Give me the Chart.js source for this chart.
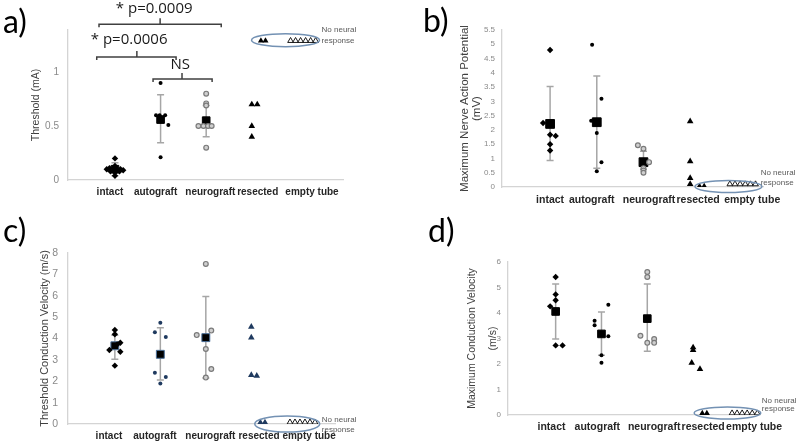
<!DOCTYPE html>
<html>
<head>
<meta charset="utf-8">
<script src="https://cdn.jsdelivr.net/npm/chart.js@4.4.0/dist/chart.umd.min.js"></script>
<style>
  body { margin: 0; width: 800px; height: 448px; background: #fff; position: relative; overflow: hidden; }
  canvas { position: absolute; }
  .lbl { position: absolute; font-family: Lato, 'Open Sans', sans-serif; font-size: 32px; line-height: 32px; color: #000; }
</style>
</head>
<body>
<canvas id="ca" width="400" height="224" style="left:0;top:0"></canvas>
<canvas id="cb" width="400" height="224" style="left:400px;top:0"></canvas>
<canvas id="cc" width="400" height="224" style="left:0;top:224px"></canvas>
<canvas id="cd" width="400" height="224" style="left:400px;top:224px"></canvas>
<div class="lbl" style="left:3px;top:5px">a)</div>
<div class="lbl" style="left:423px;top:4px">b)</div>
<div class="lbl" style="left:3px;top:214px">c)</div>
<div class="lbl" style="left:428px;top:214px">d)</div>
<script>
const groups = ['intact', 'autograft', 'neurograft', 'resected', 'empty tube'];

// a) threshold (mA)
const aIntact = [0.20, 0.13, 0.11, 0.10, 0.10, 0.09, 0.08, 0.08, 0.07, 0.04];
const aIntactJit = [0, 0, -0.12, 0.12, -0.18, 0.18, -0.1, 0.1, 0, 0];
const aAuto = [0.90, 0.60, 0.60, 0.60, 0.51, 0.21];
const aAutoJit = [0, -0.1, -0.02, 0.1, 0.17, 0];
const aNeuro = [0.80, 0.71, 0.69, 0.50, 0.50, 0.50, 0.50, 0.30];
const aNeuroJit = [0, 0, 0, -0.17, -0.06, 0.04, 0.12, 0];
const aResect = [0.70, 0.70, 0.50, 0.40];
const aResectJit = [0, 0.12, 0, 0];
const aResectNone = [1.29, 1.29];
const aEmpty = [1.29, 1.29, 1.29, 1.29, 1.29, 1.29];
const aMean = [0.10, 0.56, 0.55];
const aLow = [0.04, 0.345, 0.40];
const aHigh = [0.16, 0.79, 0.69];

// b) max nerve action potential (mV)
const bIntact = [4.80, 2.24, 1.83, 1.79, 1.50, 1.28];
const bIntactJit = [0, -0.15, 0, 0.12, 0, 0];
const bAuto = [4.98, 3.09, 2.32, 1.89, 0.87, 0.55];
const bAutoJit = [-0.1, 0.1, -0.12, 0, 0.1, 0];
const bNeuro = [1.46, 1.34, 0.87, 0.66, 0.58, 0.50];
const bNeuroJit = [-0.12, 0, 0.12, 0, 0, 0];
const bResect = [2.30, 0.90, 0.31, 0.10];
const bResectJit = [0, 0, 0, 0];
const bResectNone = [0.03, 0.03];
const bEmpty = [0.1, 0.1, 0.1, 0.1, 0.1, 0.1];
const bMean = [2.21, 2.27, 0.87];
const bLow = [0.93, 0.66, 0.62];
const bHigh = [3.52, 3.89, 1.25];

// c) threshold conduction velocity (m/s)
const cIntact = [4.40, 4.20, 3.80, 3.72, 3.46, 3.38, 2.73];
const cIntactJit = [0, 0, 0.12, 0.05, -0.12, 0.12, 0];
const cAuto = [4.74, 4.29, 4.07, 2.40, 2.20, 1.89];
const cAutoJit = [0, -0.12, 0.12, -0.12, 0.12, 0];
const cNeuro = [7.49, 4.37, 4.16, 3.51, 2.57, 2.17];
const cNeuroJit = [0, 0.12, -0.2, 0, 0.12, 0];
const cResect = [4.55, 4.04, 2.29, 2.25];
const cResectJit = [0, 0, 0, 0.12];
const cResectNone = [0.08, 0.08];
const cEmpty = [0.08, 0.08, 0.08, 0.08, 0.08, 0.08];
const cMean = [3.66, 3.26, 4.04];
const cLow = [3.03, 2.06, 2.15];
const cHigh = [4.15, 4.50, 5.97];

// d) max conduction velocity (m/s)
const dIntact = [5.41, 4.73, 4.50, 4.26, 2.73, 2.73];
const dIntactJit = [0, 0, 0, -0.12, 0, 0.15];
const dAuto = [4.32, 3.70, 3.52, 3.09, 2.34, 2.05];
const dAutoJit = [0.15, -0.15, -0.15, 0.15, 0, 0];
const dNeuro = [5.61, 5.41, 3.11, 2.98, 2.83, 2.83];
const dNeuroJit = [0, 0, -0.15, 0.15, 0, 0.15];
const dResect = [2.65, 2.55, 2.05, 1.80];
const dResectJit = [0, 0, -0.03, 0.15];
const dResectNone = [0.07, 0.07];
const dEmpty = [0.07, 0.07, 0.07, 0.07, 0.07, 0.07];
const dMean = [4.06, 3.18, 3.78];
const dLow = [2.98, 2.34, 2.50];
const dHigh = [5.14, 4.04, 5.14];

const noneJit = [0.2, 0.3];
const emptyJit = [-0.15, -0.04, 0.07, 0.18, 0.29, 0.4];

const FONT = "'Liberation Sans', Arial, sans-serif";

function pts(vals, jit, cat) {
  return vals.map((v, i) => ({ x: cat + jit[i], y: v }));
}
// one mean per group, at the group's own category
function means(vals) {
  return vals.map((v, i) => ({ x: i + 1, y: v }));
}

// error bars, ellipse, notes, brackets
const marks = {
  id: 'marks',
  beforeDatasetsDraw(chart, args, o) {
    const { ctx, scales: { x, y } } = chart;
    ctx.save();
    ctx.strokeStyle = '#a6a6a6';
    ctx.lineWidth = 1.5;
    o.mean.forEach((m, i) => {
      const px = x.getPixelForValue(i + 1);
      const y0 = y.getPixelForValue(o.low[i]);
      const y1 = y.getPixelForValue(o.high[i]);
      ctx.beginPath();
      ctx.moveTo(px, y0); ctx.lineTo(px, y1);
      ctx.moveTo(px - 3.5, y0); ctx.lineTo(px + 3.5, y0);
      ctx.moveTo(px - 3.5, y1); ctx.lineTo(px + 3.5, y1);
      ctx.stroke();
    });
    ctx.restore();
  },
  afterDatasetsDraw(chart, args, o) {
    const { ctx, scales: { x, y } } = chart;
    ctx.save();
    const e = o.ellipse;
    ctx.strokeStyle = '#7391b3';
    ctx.lineWidth = 1.5;
    ctx.beginPath();
    ctx.ellipse(x.getPixelForValue(e.x), y.getPixelForValue(e.y), e.rx, e.ry, 0, 0, Math.PI * 2);
    ctx.stroke();

    ctx.fillStyle = '#595959';
    ctx.font = '8px ' + FONT;
    ctx.textAlign = 'left';
    ctx.textBaseline = 'middle';
    const nx = x.getPixelForValue(o.note.x), ny = y.getPixelForValue(o.note.y);
    ctx.fillText('No neural', nx, ny);
    ctx.fillText('response', nx, ny + o.note.gap);

    (o.brackets || []).forEach(b => {
      const x0 = x.getPixelForValue(b.from), x1 = x.getPixelForValue(b.to);
      const xm = x.getPixelForValue(b.mid), yb = y.getPixelForValue(b.y);
      ctx.strokeStyle = '#404040';
      ctx.lineWidth = 1.5;
      ctx.beginPath();
      ctx.moveTo(x0, yb + 3); ctx.lineTo(x0, yb); ctx.lineTo(x1, yb); ctx.lineTo(x1, yb + 3);
      ctx.moveTo(xm, yb); ctx.lineTo(xm, yb - 6);
      ctx.stroke();
      ctx.fillStyle = '#1a1a1a';
      ctx.font = '15px ' + "'Open Sans', 'Liberation Sans', sans-serif";
      ctx.textAlign = 'center';
      ctx.fillText(b.text, x.getPixelForValue(b.tx), y.getPixelForValue(b.ty));
    });
    ctx.restore();
  }
};

function build(id, g, d) {
  const dot = g.dotColor;
  const tri = g.triColor;
  new Chart(document.getElementById(id), {
    type: 'scatter',
    data: {
      datasets: [
        { data: pts(d.intact, d.intactJit, 1), pointStyle: 'rectRot', pointRadius: 3.2, backgroundColor: '#000', borderColor: '#000', borderWidth: 0 },
        { data: pts(d.auto, d.autoJit, 2), pointStyle: 'circle', pointRadius: 2, backgroundColor: dot, borderColor: dot, borderWidth: 0 },
        { data: pts(d.neuro, d.neuroJit, 3), pointStyle: 'circle', pointRadius: 2.4, backgroundColor: '#cfcfcf', borderColor: '#7a7a7a', borderWidth: 1.2 },
        { data: pts(d.resect, d.resectJit, 4), pointStyle: 'triangle', pointRadius: 3.8, backgroundColor: tri, borderColor: tri, borderWidth: 0 },
        { data: pts(d.resectNone, noneJit, 4), pointStyle: 'triangle', pointRadius: 3.5, backgroundColor: tri, borderColor: tri, borderWidth: 0 },
        { data: pts(d.empty, emptyJit, 5), pointStyle: 'triangle', pointRadius: 3.3, backgroundColor: '#fff', borderColor: '#000', borderWidth: 0.9 },
        { data: means(d.mean), pointStyle: 'rect', pointRadius: g.meanR, backgroundColor: '#000', borderColor: g.meanEdge, borderWidth: 1 }
      ]
    },
    options: {
      responsive: false,
      animation: false,
      events: [],
      layout: { padding: { left: 0, top: g.top, right: 400 - g.right, bottom: 0 } },
      plugins: {
        legend: { display: false },
        tooltip: { enabled: false },
        marks: { mean: d.mean, low: d.low, high: d.high, ellipse: g.ellipse, note: g.note, brackets: g.brackets }
      },
      scales: {
        x: {
          type: 'linear', min: g.xMin, max: g.xMax,
          grid: { display: false, drawTicks: false },
          border: { color: '#d4d4d4', width: 1.3 },
          afterFit: s => { s.height = 224 - g.bottom; },
          afterBuildTicks: s => { s.ticks = g.labelAt.map(v => ({ value: v })); },
          ticks: {
            autoSkip: false, maxRotation: 0, padding: g.xPad, color: '#262626',
            font: { family: FONT, size: g.xFont, weight: 'bold' },
            callback: (v, i) => groups[i]
          }
        },
        y: {
          min: 0, max: g.yMax,
          grid: { display: false, drawTicks: false },
          border: { color: '#d4d4d4', width: 1.3 },
          afterFit: s => { s.width = g.left; },
          afterBuildTicks: s => { s.ticks = g.yTicks.map(v => ({ value: v })); },
          ticks: { padding: g.yPad, color: '#8a8a8a', font: { family: FONT, size: g.yFont }, callback: v => String(v) },
          title: {
            display: true, text: g.title, color: '#404040',
            font: { family: FONT, size: g.tFont, lineHeight: g.tLine },
            padding: { top: g.tPad, bottom: 0 }
          }
        }
      }
    },
    plugins: [marks]
  });
}

build('ca', {
  top: 30, bottom: 180, left: 68, right: 343, xMin: -0.03, xMax: 6, yMax: 1.39,
  yTicks: [0, 0.5, 1], labelAt: [0.89, 1.89, 3.09, 4.13, 5.32],
  xFont: 10, xPad: 6, yFont: 10, yPad: 9,
  title: 'Threshold (mA)', tFont: 10.5, tLine: 1.2, tPad: 30,
  dotColor: '#000', triColor: '#000', meanR: 5.4, meanEdge: '#000',
  ellipse: { x: 4.74, y: 1.296, rx: 34, ry: 6.5 },
  note: { x: 5.53, y: 1.39, gap: 11 },
  brackets: [
    { from: 0.65, to: 3.33, mid: 1.99, y: 1.444, text: '* p=0.0009', tx: 1.86, ty: 1.59 },
    { from: 0.6, to: 2.34, mid: 1.48, y: 1.139, text: '* p=0.0006', tx: 1.31, ty: 1.296 },
    { from: 1.835, to: 3.13, mid: 2.47, y: 0.935, text: 'NS', tx: 2.43, ty: 1.065 }
  ]
}, { intact: aIntact, intactJit: aIntactJit, auto: aAuto, autoJit: aAutoJit, neuro: aNeuro, neuroJit: aNeuroJit,
     resect: aResect, resectJit: aResectJit, resectNone: aResectNone, empty: aEmpty, mean: aMean, low: aLow, high: aHigh });

build('cb', {
  top: 30, bottom: 187, left: 102, right: 363, xMin: -0.03, xMax: 5.56, yMax: 5.5,
  yTicks: [0, 0.5, 1, 1.5, 2, 2.5, 3, 3.5, 4, 4.5, 5, 5.5], labelAt: [1.0, 1.89, 3.12, 4.17, 5.33],
  xFont: 10.5, xPad: 7, yFont: 8, yPad: 7,
  title: ['Maximum Nerve Action Potential', '(mV)'], tFont: 11.5, tLine: 1.04, tPad: 59,
  dotColor: '#000', triColor: '#000', meanR: 6.2, meanEdge: '#000',
  ellipse: { x: 4.82, y: 0.02, rx: 33.5, ry: 6 },
  note: { x: 5.51, y: 0.49, gap: 10 }
}, { intact: bIntact, intactJit: bIntactJit, auto: bAuto, autoJit: bAutoJit, neuro: bNeuro, neuroJit: bNeuroJit,
     resect: bResect, resectJit: bResectJit, resectNone: bResectNone, empty: bEmpty, mean: bMean, low: bLow, high: bHigh });

build('cc', {
  top: 29, bottom: 200, left: 68, right: 335, xMin: -0.03, xMax: 5.84, yMax: 8,
  yTicks: [0, 1, 2, 3, 4, 5, 6, 7, 8], labelAt: [0.87, 1.88, 3.1, 4.17, 5.27],
  xFont: 10, xPad: 6, yFont: 10.5, yPad: 10,
  title: 'Threshold Conduction Velocity (m/s)', tFont: 11, tLine: 1.2, tPad: 38,
  dotColor: '#1f3a5f', triColor: '#1f3a5f', meanR: 5.6, meanEdge: '#4a6f99',
  ellipse: { x: 4.79, y: 0, rx: 32.5, ry: 8 },
  note: { x: 5.55, y: 0.2, gap: 10 }
}, { intact: cIntact, intactJit: cIntactJit, auto: cAuto, autoJit: cAutoJit, neuro: cNeuro, neuroJit: cNeuroJit,
     resect: cResect, resectJit: cResectJit, resectNone: cResectNone, empty: cEmpty, mean: cMean, low: cLow, high: cHigh });

build('cd', {
  top: 38, bottom: 191, left: 108, right: 360, xMin: -0.04, xMax: 5.46, yMax: 6,
  yTicks: [0, 1, 2, 3, 4, 5, 6], labelAt: [0.91, 1.91, 3.15, 4.22, 5.33],
  xFont: 10.5, xPad: 6, yFont: 8, yPad: 7,
  title: ['Maximum Conduction Velocity', '(m/s)'], tFont: 10.5, tLine: 1.96, tPad: 62,
  dotColor: '#000', triColor: '#000', meanR: 5.4, meanEdge: '#000',
  ellipse: { x: 4.75, y: 0.08, rx: 33.3, ry: 6 },
  note: { x: 5.5, y: 0.56, gap: 8 }
}, { intact: dIntact, intactJit: dIntactJit, auto: dAuto, autoJit: dAutoJit, neuro: dNeuro, neuroJit: dNeuroJit,
     resect: dResect, resectJit: dResectJit, resectNone: dResectNone, empty: dEmpty, mean: dMean, low: dLow, high: dHigh });
</script>
</body>
</html>
